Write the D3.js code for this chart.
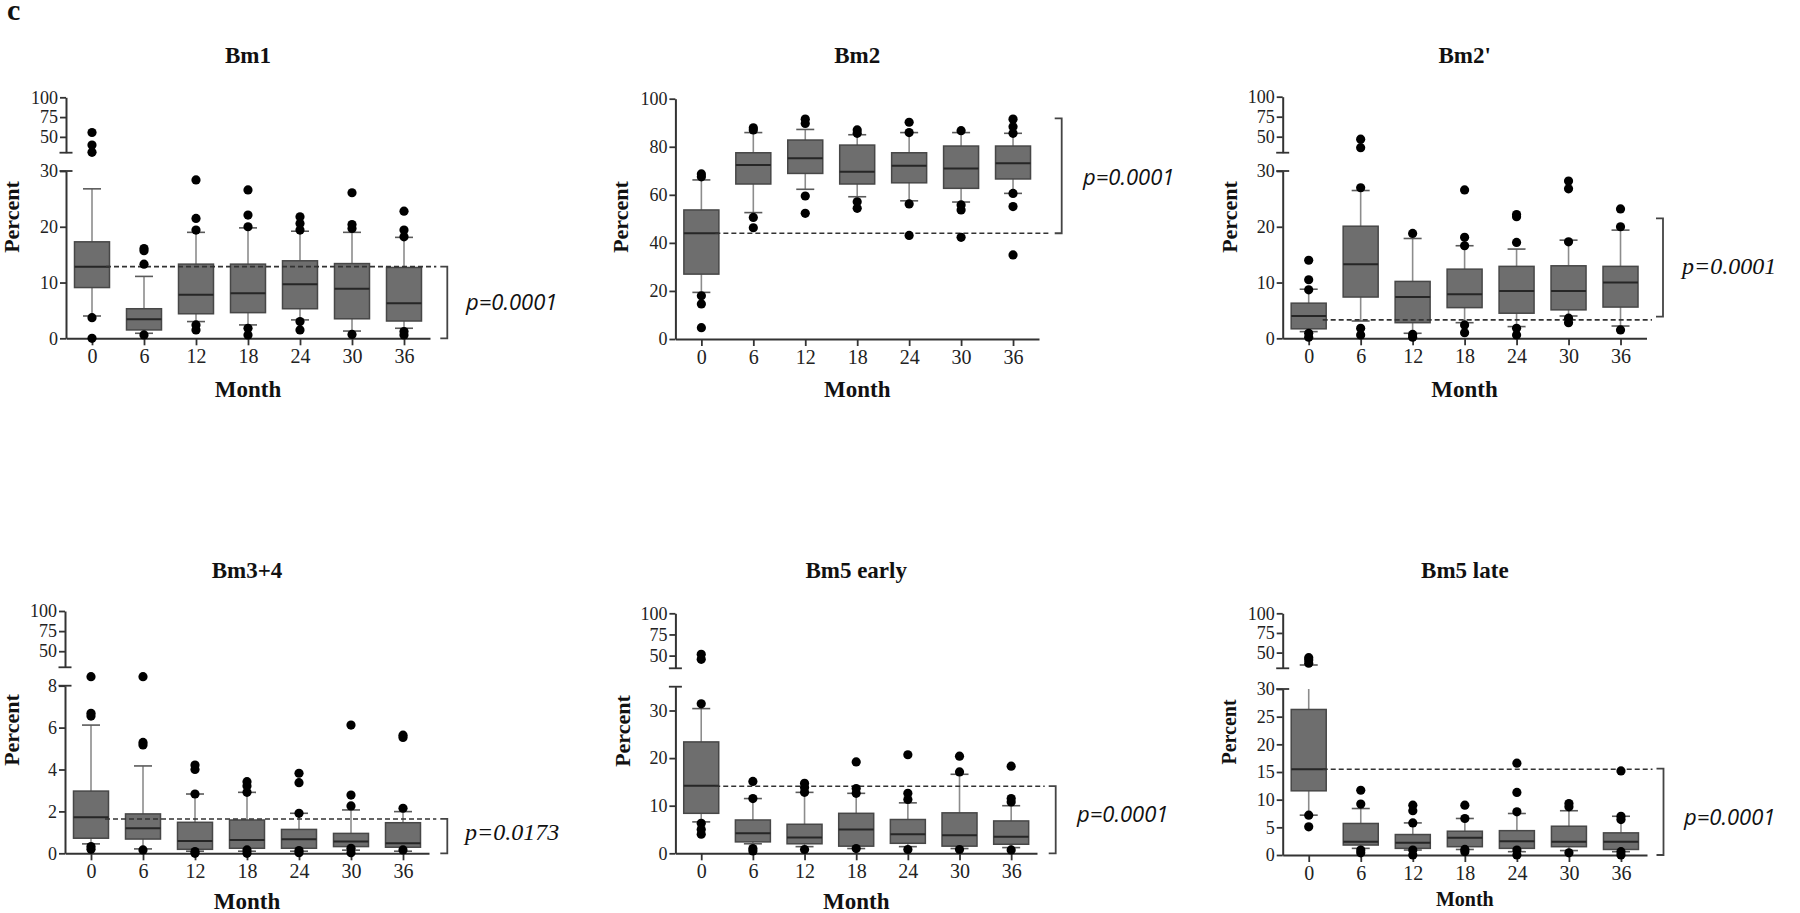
<!DOCTYPE html>
<html><head><meta charset="utf-8">
<script src="https://cdn.jsdelivr.net/npm/d3@7"></script>
<style>body{margin:0;background:#fff;} svg{display:block;}</style>
</head><body><svg id="chart" width="1800" height="913"></svg>
<script>
// ---------------- DATA ----------------
const months = ["0","6","12","18","24","30","36"];
const panelTitles = ["Bm1","Bm2","Bm2'","Bm3+4","Bm5 early","Bm5 late"];
const pValues = ["p=0.0001","p=0.0001","p=0.0001","p=0.0173","p=0.0001","p=0.0001"];
const refLevels = [12.85, 44.0, 3.3, 1.64, 14.1, 15.5];
const bracketHigh = [12.85, 91.8, 21.5, 1.64, 14.1, 15.6];
const bracketLow = [0, 44.0, 3.9, 0, 0, 0];

// y-axis domains and tick labels (lower segment / upper segment of broken axes)
const lowerDomains = [[0,30],[0,100],[0,30],[0,8],[0,35],[0,30]];
const upperDomains = [[30,100],null,[30,100],[30,100],[35,100],[30,100]];
const lowerTicks = [[0,10,20,30],[0,20,40,60,80,100],[0,10,20,30],[0,2,4,6,8],[0,10,20,30],[0,5,10,15,20,25,30]];
const upperTicks = [50,75,100];

// box summaries per month: [lower whisker, Q1, median, Q3, upper whisker]
const bm1Boxes = [[4.0,9.1,12.85,17.3,26.8],[0.9,1.5,3.4,5.3,11.1],[3.0,4.4,7.8,13.3,19.0],[2.4,4.6,8.1,13.3,19.8],[3.3,5.3,9.7,13.9,19.2],[1.3,3.5,8.9,13.4,19.0],[1.8,3.1,6.3,12.7,18.1]];
const bm1Outliers = [[55.5,39.7,30.5,3.7,0.0],[16.1,15.7,13.3,0.6],[28.4,21.5,19.4,2.4,1.5],[26.6,22.1,20.0,1.8,0.6],[21.8,20.6,19.4,3.0,1.5],[26.1,20.4,19.7,0.7],[22.8,19.4,18.2,1.2,0.6]];

const bm2Boxes = [[19.4,27.0,44.0,53.7,66.2],[52.6,64.5,72.4,77.5,85.9],[62.3,68.9,75.2,82.8,87.2],[59.2,64.5,69.6,80.7,85.0],[57.5,65.0,72.1,77.5,85.9],[57.0,62.7,71.0,80.3,85.9],[60.6,66.6,73.1,80.3,85.6]];
const bm2Outliers = [[68.7,67.5,18.0,14.6,4.7],[87.9,87.0,50.6,46.3],[91.5,89.7,59.5,52.3],[87.0,85.6,57.1,54.4],[90.2,85.9,56.2,43.1],[86.7,55.8,53.7,42.3],[91.5,88.3,85.6,60.6,55.1,35.0]];

const bm2pBoxes = [[1.2,1.7,4.0,6.3,8.8],[3.1,7.4,13.3,20.1,26.5],[0.9,2.8,7.4,10.2,17.9],[2.8,5.5,7.9,12.4,16.6],[2.1,4.5,8.5,12.9,16.0],[4.0,5.1,8.5,13.0,17.6],[2.2,5.6,10.0,12.9,19.4]];
const bm2pOutliers = [[14.0,10.5,8.7,0.9,0.2],[46.9,36.3,27.0,1.8,0.6],[18.8,0.7,0.2],[26.6,18.1,16.6,2.4,1.0],[22.2,21.8,17.2,1.8,0.6],[28.2,26.8,17.3,3.6,2.8],[23.2,20.0,1.5]];

const bm34Boxes = [[0.45,0.72,1.72,2.97,6.12],[0.21,0.68,1.19,1.88,4.17],[0.1,0.19,0.59,1.48,2.83],[0.1,0.24,0.64,1.59,2.91],[0.1,0.24,0.67,1.14,1.91],[0.15,0.32,0.56,0.95,2.07],[0.1,0.29,0.48,1.46,1.99]];
const bm34Outliers = [[8.43,6.68,6.55,0.32,0.19],[8.43,5.29,5.17,0.16],[4.21,4.0,2.83,0.08,0.0],[3.42,3.21,2.91,0.16,0.0],[3.82,3.37,1.91,0.13,0.03],[6.12,2.78,2.26,0.24,0.03],[5.64,5.53,2.15,0.16]];

const bm5eBoxes = [[6.6,8.4,14.2,23.4,30.4],[2.0,2.4,4.2,7.0,11.5],[1.4,2.0,3.3,6.1,12.8],[1.0,1.5,5.0,8.4,12.6],[1.4,2.1,4.0,7.1,10.6],[1.0,1.5,3.8,8.5,16.6],[1.2,1.9,3.5,6.8,10.0]];
const bm5eOutliers = [[51.5,45.6,31.4,6.3,5.0,4.0],[15.1,11.5,1.0,0.5],[14.7,13.8,12.8,0.8],[19.2,13.6,12.6,1.0],[20.7,12.6,11.3,0.8],[20.4,17.1,0.8],[18.3,11.5,10.8,0.7]];

const bm5lBoxes = [[7.2,11.6,15.5,26.3,34.2],[1.2,1.8,2.4,5.7,8.4],[0.9,1.2,2.2,3.7,5.8],[1.0,1.5,3.1,4.3,6.6],[0.6,1.2,2.5,4.4,7.5],[0.8,1.5,2.4,5.2,8.0],[0.6,1.0,2.4,4.0,7.0]];
const bm5lOutliers = [[43.5,40.6,36.4,7.2,5.1],[11.7,9.2,0.9,0.4],[9.0,8.0,5.8,0.9,0.0],[9.0,6.6,1.0,0.6],[16.6,11.3,7.8,0.9,0.0],[9.3,8.7,0.4],[15.2,7.0,6.4,0.6,0.0]];

const allBoxes = [bm1Boxes, bm2Boxes, bm2pBoxes, bm34Boxes, bm5eBoxes, bm5lBoxes];
const allOutliers = [bm1Outliers, bm2Outliers, bm2pOutliers, bm34Outliers, bm5eOutliers, bm5lOutliers];

// ---------------- LAYOUT ----------------
const layout = [
  {ax:66,    xe:430,    lo:[338.3,171],   up:[152.7,97.3],  titleY:63,  monthY:397, pctX:19,   pctY:217, brX:447.3,  pX:466,  pY:310, serifP:false},
  {ax:675.4, xe:1039,   lo:[339,98.7],    up:null,          titleY:63,  monthY:397, pctX:628,  pctY:217, brX:1061.7, pX:1083, pY:185, serifP:false},
  {ax:1282.7,xe:1646.5, lo:[338.3,171],   up:[152.7,96.7],  titleY:63,  monthY:397, pctX:1237, pctY:217, brX:1663,   pX:1682, pY:274, serifP:true},
  {ax:65,    xe:429,    lo:[853.3,685.7], up:[667.3,611],   titleY:578, monthY:909, pctX:18.5, pctY:730, brX:447.3,  pX:465,  pY:840, serifP:true},
  {ax:675.4, xe:1037,   lo:[853.3,686.7], up:[668.3,613.3], titleY:578, monthY:909, pctX:630,  pctY:731, brX:1055.7, pX:1077, pY:822, serifP:false},
  {ax:1282.7,xe:1647,   lo:[855,689],     up:[668.3,613.3], titleY:578, monthY:906, pctX:1236, pctY:732, brX:1663.5, pX:1684, pY:825, serifP:false, small:true}
];

const SERIF = "'Liberation Serif','Times New Roman',serif";
const SANS = "'Open Sans','Noto Sans',sans-serif";
const AX = "#333";
const svg = d3.select("#chart");

svg.append("text").attr("x", 7).attr("y", 20).text("c")
  .attr("font-family", SERIF).attr("font-weight", "bold").attr("font-size", 30).attr("fill", "#111");

function styleAxis(g, fs) {
  g.select(".domain").attr("stroke", AX).attr("stroke-width", 2);
  g.selectAll(".tick line").attr("stroke", AX).attr("stroke-width", 1.8);
  g.selectAll(".tick text").attr("font-family", SERIF).attr("font-size", fs).attr("fill", "#222");
}

layout.forEach((L, i) => {
  const g = svg.append("g");
  const x = d3.scalePoint().domain(months).range([L.ax, L.xe]).padding(0.5);
  const lowDom = lowerDomains[i];
  const lower = d3.scaleLinear().domain(lowDom).range(L.lo);
  const upper = upperDomains[i] ? d3.scaleLinear().domain(upperDomains[i]).range(L.up) : null;
  const y = v => (upper && v >= upperDomains[i][0]) ? upper(v) : lower(v);

  // title
  const cx = (L.ax + L.xe) / 2;
  g.append("text").attr("x", cx).attr("y", L.titleY).attr("text-anchor", "middle")
    .attr("font-family", SERIF).attr("font-weight", "bold").attr("font-size", 23).attr("fill", "#111")
    .text(panelTitles[i]);

  // x axis
  const gx = g.append("g").attr("transform", `translate(0,${L.lo[0]})`)
    .call(d3.axisBottom(x).tickSize(7).tickPadding(4).tickSizeOuter(0));
  styleAxis(gx, 20);

  // y axis lower
  const gyl = g.append("g").attr("transform", `translate(${L.ax},0)`)
    .call(d3.axisLeft(lower).tickValues(lowerTicks[i]).tickFormat(d3.format("d")).tickSize(6).tickPadding(2).tickSizeOuter(0));
  styleAxis(gyl, 18);
  if (upper) {
    const gyu = g.append("g").attr("transform", `translate(${L.ax},0)`)
      .call(d3.axisLeft(upper).tickValues(upperTicks).tickFormat(d3.format("d")).tickSize(6).tickPadding(2).tickSizeOuter(0));
    styleAxis(gyu, 18);
    // break ticks (both sides)
    [upper(upperDomains[i][0]), lower(lowDom[1])].forEach(yy => {
      g.append("line").attr("x1", L.ax - 6.5).attr("x2", L.ax + 6.5).attr("y1", yy).attr("y2", yy)
        .attr("stroke", AX).attr("stroke-width", 1.8);
    });
  }

  // axis labels
  g.append("text").attr("x", cx).attr("y", L.monthY).attr("text-anchor", "middle")
    .attr("font-family", SERIF).attr("font-weight", "bold").attr("font-size", L.small ? 20 : 23).attr("fill", "#111")
    .text("Month");
  g.append("text").attr("transform", `translate(${L.pctX},${L.pctY}) rotate(-90)`).attr("text-anchor", "middle")
    .attr("font-family", SERIF).attr("font-weight", "bold").attr("font-size", L.small ? 20 : 22).attr("fill", "#111")
    .text("Percent");

  const bw = 35, cw = 18;
  const boxes = allBoxes[i];
  const lowTop = lower(lowDom[1]);
  boxes.forEach((b, j) => {
    const xc = x(months[j]);
    const [lo, q1, med, q3, hi] = b;
    const yHiLine = (upper && hi >= upperDomains[i][0]) ? lowTop : y(hi);
    // whiskers
    g.append("line").attr("x1", xc).attr("x2", xc).attr("y1", y(q3)).attr("y2", yHiLine)
      .attr("stroke", "#8c8c8c").attr("stroke-width", 1.6);
    g.append("line").attr("x1", xc).attr("x2", xc).attr("y1", y(q1)).attr("y2", y(lo))
      .attr("stroke", "#8c8c8c").attr("stroke-width", 1.6);
    [hi, lo].forEach(v => {
      g.append("line").attr("x1", xc - cw/2).attr("x2", xc + cw/2).attr("y1", y(v)).attr("y2", y(v))
        .attr("stroke", "#5a5a5a").attr("stroke-width", 1.6);
    });
    // box
    g.append("rect").attr("x", xc - bw/2).attr("y", y(q3)).attr("width", bw).attr("height", y(q1) - y(q3))
      .attr("fill", "#6e6e6e").attr("stroke", "#474747").attr("stroke-width", 1.5);
    g.append("line").attr("x1", xc - bw/2).attr("x2", xc + bw/2).attr("y1", y(med)).attr("y2", y(med))
      .attr("stroke", "#262626").attr("stroke-width", 2);
  });

  // reference dashed line
  const yr = y(refLevels[i]);
  g.append("line").attr("x1", x(months[0]) + 14).attr("x2", L.brX - 11).attr("y1", yr).attr("y2", yr)
    .attr("stroke", "#333").attr("stroke-width", 1.6).attr("stroke-dasharray", "5,3");

  // outliers
  boxes.forEach((b, j) => {
    const xc = x(months[j]);
    allOutliers[i][j].forEach(v => {
      g.append("circle").attr("cx", xc).attr("cy", y(v)).attr("r", 4.6).attr("fill", "#000");
    });
  });

  // bracket
  const yb1 = y(bracketHigh[i]), yb2 = y(bracketLow[i]);
  g.append("path").attr("d", `M${L.brX - 7},${yb1}H${L.brX}V${yb2}H${L.brX - 7}`)
    .attr("fill", "none").attr("stroke", "#444").attr("stroke-width", 1.8);

  // p-value
  g.append("text").attr("x", L.pX).attr("y", L.pY)
    .attr("font-family", L.serifP ? SERIF : SANS).attr("font-style", "italic")
    .attr("font-size", L.serifP ? 24 : 22).attr("fill", "#111")
    .text(pValues[i]);
});
</script>
</body></html>
